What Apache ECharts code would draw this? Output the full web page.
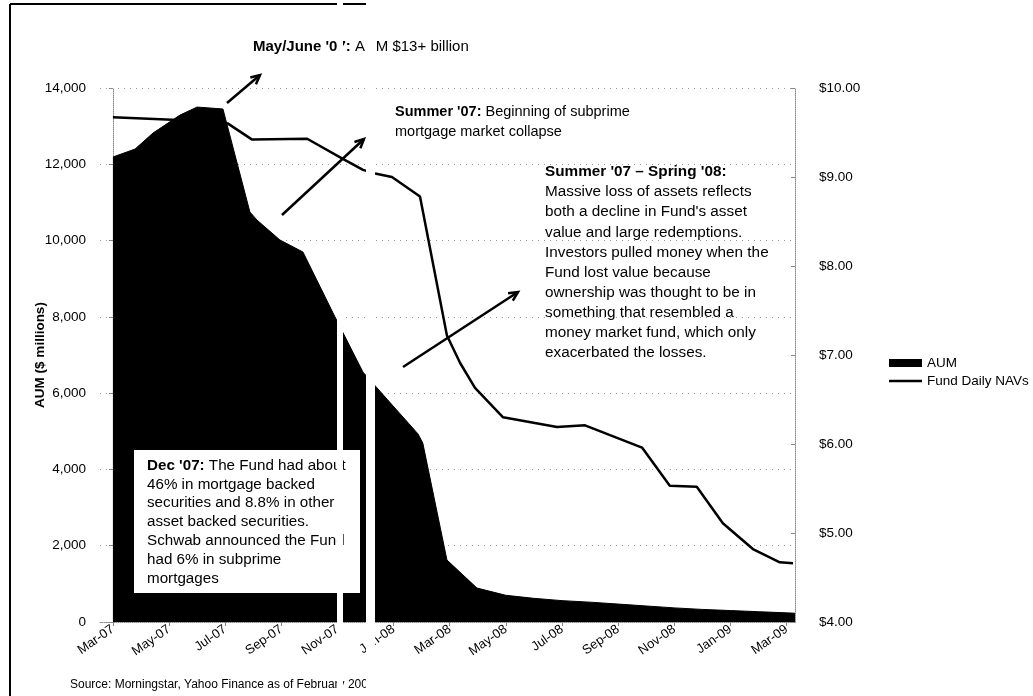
<!DOCTYPE html>
<html>
<head>
<meta charset="utf-8">
<script src="https://cdn.jsdelivr.net/npm/echarts@6/dist/echarts.min.js"></script>
<style>
html,body{margin:0;padding:0;background:#fff;}
#chart{width:1033px;height:696px;}
</style>
</head>
<body>
<div id="chart"></div>
<script>
// x positions are months since Mar-07 (0 = Mar-07)
const tickMonths = [0, 2, 4, 6, 8, 10, 12, 14, 16, 18, 20, 22, 24];
const tickLabels = ['Mar-07','May-07','Jul-07','Sep-07','Nov-07','Jan-08','Mar-08','May-08','Jul-08','Sep-08','Nov-08','Jan-09','Mar-09'];

const aumMonths = [0, 0.79, 1.43, 2.39, 3.0, 3.92, 4.88, 5.13, 5.95, 6.77, 7.91, 8.91, 10.87, 11.04, 11.9, 12.97, 14, 15, 16, 17, 18, 19, 20, 21, 22, 23, 24, 24.3];
const aumValues = [12190, 12400, 12820, 13290, 13500, 13450, 10750, 10540, 10015, 9700, 8000, 6550, 4930, 4690, 1625, 890, 700, 620, 560, 520, 470, 420, 370, 330, 300, 270, 240, 230];

const navMonths = [0, 2.32, 4.10, 4.96, 6.92, 8.16, 8.91, 9.34, 9.94, 10.94, 11.9, 12.37, 12.9, 13.9, 15.82, 16.82, 17.71, 18.85, 19.84, 20.8, 21.73, 22.8, 23.76, 24.23];
const navValues = [9.67, 9.64, 9.60, 9.42, 9.43, 9.21, 9.08, 9.04, 9.00, 8.78, 7.22, 6.91, 6.63, 6.30, 6.19, 6.21, 6.10, 5.96, 5.53, 5.52, 5.11, 4.82, 4.67, 4.66];

const FONT = '"Liberation Sans", Arial, sans-serif';

const chart = echarts.init(document.getElementById('chart'));

function arrow(x1, y1, x2, y2) {
  const ang = Math.atan2(y2 - y1, x2 - x1);
  const L = 10, W = 0.45;
  return [
    { type: 'line', z: 100, shape: { x1: x1, y1: y1, x2: x2, y2: y2 }, style: { stroke: '#000', lineWidth: 2.5 } },
    { type: 'polyline', z: 100, shape: { points: [
        [x2 - L * Math.cos(ang - W), y2 - L * Math.sin(ang - W)],
        [x2, y2],
        [x2 - L * Math.cos(ang + W), y2 - L * Math.sin(ang + W)]
      ] }, style: { stroke: '#000', lineWidth: 2.5, fill: null } }
  ];
}

const option = {
  backgroundColor: '#fff',
  animation: false,
  textStyle: { fontFamily: FONT },
  grid: { left: 100, right: 238, top: 88, bottom: 74, containLabel: false },
  legend: {
    orient: 'vertical',
    left: 889, top: 356, padding: 0,
    itemWidth: 33, itemHeight: 8, itemGap: 4,
    textStyle: { fontFamily: FONT, fontSize: 13.5, color: '#000' },
    data: [
      { name: 'AUM', icon: 'rect' },
      { name: 'Fund Daily NAVs', icon: 'path://M0,0H40V3H0Z' }
    ]
  },
  xAxis: {
    type: 'value',
    min: -0.46, max: 24.3,
    splitLine: { show: false },
    axisLine: { show: true, lineStyle: { color: '#888', type: 'dotted' } },
    axisTick: { show: true, customValues: tickMonths, lineStyle: { color: '#888' }, length: 4 },
    axisLabel: {
      customValues: tickMonths,
      rotate: 35,
      fontSize: 13,
      color: '#000',
      fontFamily: FONT,
      margin: 6,
      formatter: function (v) {
        const i = tickMonths.indexOf(Math.round(v));
        return i >= 0 ? tickLabels[i] : '';
      }
    }
  },
  yAxis: [
    {
      type: 'value', min: 0, max: 14000, interval: 2000,
      name: 'AUM ($ millions)', nameLocation: 'middle', nameGap: 53, nameRotate: 90,
      nameMoveOverlap: false,
      nameTextStyle: { fontFamily: FONT, fontSize: 13.5, fontWeight: 'bold', color: '#000' },
      axisLine: { show: true, lineStyle: { color: '#888', type: 'dotted' } },
      axisTick: { show: true, length: 4, lineStyle: { color: '#888' } },
      axisLabel: {
        fontSize: 13.5, color: '#000', fontFamily: FONT, margin: 14,
        formatter: function (v) { return v.toLocaleString('en-US'); }
      },
      splitLine: { show: true, lineStyle: { color: '#999', type: [1, 5], width: 1 } }
    },
    {
      type: 'value', min: 4, max: 10, interval: 1, position: 'right',
      axisLine: { show: true, lineStyle: { color: '#888', type: 'dotted' } },
      axisTick: { show: true, inside: true, length: 4, lineStyle: { color: '#888' } },
      axisLabel: {
        fontSize: 13.5, color: '#000', fontFamily: FONT, margin: 24,
        formatter: function (v) { return '$' + v.toFixed(2); }
      },
      splitLine: { show: false }
    }
  ],
  series: [
    {
      name: 'AUM', type: 'line', yAxisIndex: 0, symbol: 'none',
      data: aumMonths.map((m, i) => [m, aumValues[i]]),
      lineStyle: { color: '#000', width: 1 },
      itemStyle: { color: '#000' },
      areaStyle: { color: '#000', opacity: 1 },
      z: 3
    },
    {
      name: 'Fund Daily NAVs', type: 'line', yAxisIndex: 1, symbol: 'none',
      data: navMonths.map((m, i) => [m, navValues[i]]),
      lineStyle: { color: '#000', width: 2.5 },
      itemStyle: { color: '#000' },
      z: 2
    }
  ],
  graphic: [
    // frame
    { type: 'line', shape: { x1: 10, y1: 4, x2: 337, y2: 4 }, style: { stroke: '#000', lineWidth: 2 } },
    { type: 'line', shape: { x1: 343, y1: 4, x2: 366, y2: 4 }, style: { stroke: '#000', lineWidth: 2 } },
    { type: 'line', shape: { x1: 10, y1: 4, x2: 10, y2: 696 }, style: { stroke: '#000', lineWidth: 2 } },
    // annotations
    {
      type: 'text', z: 100, left: 253, top: 39,
      style: {
        text: "{b|May/June '07:} AUM $13+ billion",
        font: '15px ' + FONT, fill: '#000',
        rich: { b: { fontWeight: 'bold', fontSize: 15, fontFamily: FONT } }
      }
    },
    ...arrow(227, 103, 260, 75),
    {
      type: 'text', z: 100, left: 395, top: 102,
      style: {
        text: "{b|Summer '07:} Beginning of subprime\nmortgage market collapse",
        font: '14.5px ' + FONT, fill: '#000', lineHeight: 20,
        rich: { b: { fontWeight: 'bold', fontSize: 14.5, fontFamily: FONT, lineHeight: 20 } }
      }
    },
    ...arrow(282, 215, 364, 139),
    {
      type: 'text', z: 100, left: 545, top: 162,
      style: {
        text: "{b|Summer '07 – Spring '08:}\nMassive loss of assets reflects\nboth a decline in Fund's asset\nvalue and large redemptions.\nInvestors pulled money when the\nFund lost value because\nownership was thought to be in\nsomething that resembled a\nmoney market fund, which only\nexacerbated the losses.",
        font: '15.3px ' + FONT, fill: '#000', lineHeight: 20.1,
        rich: { b: { fontWeight: 'bold', fontSize: 15.3, fontFamily: FONT, lineHeight: 20.1 } }
      }
    },
    ...arrow(403, 367, 518, 292),
    { type: 'rect', z: 90, shape: { x: 134, y: 450, width: 226, height: 143 }, style: { fill: '#fff' } },
    {
      type: 'text', z: 100, left: 147, top: 456,
      style: {
        text: "{b|Dec '07:} The Fund had about\n46% in mortgage backed\nsecurities and 8.8% in other\nasset backed securities.\nSchwab announced the Fund\nhad 6% in subprime\nmortgages",
        font: '15.2px ' + FONT, fill: '#000', lineHeight: 18.9,
        rich: { b: { fontWeight: 'bold', fontSize: 15.2, fontFamily: FONT, lineHeight: 18.9 } }
      }
    },
    {
      type: 'text', z: 100, left: 70, top: 679,
      style: { text: 'Source: Morningstar, Yahoo Finance as of February 2009', font: '12px ' + FONT, fill: '#000' }
    },
    // scan gaps (white columns) in the scanned original
    { type: 'rect', z: 200, shape: { x: 337, y: 300, width: 6, height: 396 }, style: { fill: '#fff' } },
    { type: 'rect', z: 200, shape: { x: 337, y: 0, width: 6, height: 60 }, style: { fill: '#fff' } },
    { type: 'rect', z: 200, shape: { x: 366, y: 0, width: 9, height: 696 }, style: { fill: '#fff' } }
  ]
};

chart.setOption(option);
</script>
</body>
</html>
